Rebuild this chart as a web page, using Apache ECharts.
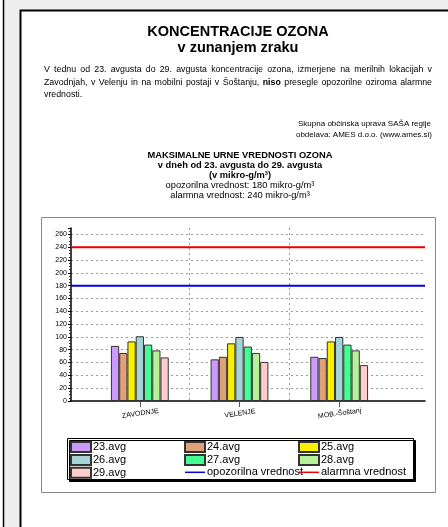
<!DOCTYPE html>
<html>
<head>
<meta charset="utf-8">
<script src="https://cdn.jsdelivr.net/npm/echarts@6/dist/echarts.min.js"></script>
<style>
  html, body { margin: 0; padding: 0; background: #fff; }
  #main { width: 448px; height: 527px; }
</style>
</head>
<body>
<div id="main"></div>
<script>
// lokacije (kategorije na osi x)
var categories = ['ZAVODNJE', 'VELENJE', 'MOB.-Šoštanj'];
// imena serij (dnevi)
var dayNames = ['23.avg', '24.avg', '25.avg', '26.avg', '27.avg', '28.avg', '29.avg'];
// max urne vrednosti po dnevih, za vsako lokacijo
var d23 = [86, 65, 69];
var d24 = [75, 69, 67];
var d25 = [93, 90, 93];
var d26 = [101, 100, 100];
var d27 = [88, 85, 88];
var d28 = [79, 75, 79];
var d29 = [68, 61, 56];
var dayValues = [d23, d24, d25, d26, d27, d28, d29];
// mejne vrednosti
var opozorilna = 180;
var alarmna = 240;
var yMin = 0, yMax = 270, yStep = 20;

var barColors = ['#cc99ff', '#e0a078', '#f8f000', '#a6d3d8', '#44ff90', '#b8f09a', '#ffcccc'];
var FONT = '"Liberation Sans", Arial, sans-serif';

var myChart = echarts.init(document.getElementById('main'));

/**
 * poravnan odstavek (justify) - vsako besedo postavimo posebej
 */
var measureCtx = document.createElement('canvas').getContext('2d');
function justifyLine(words, x0, x1, y, size, last) {
  var els = [];
  var widths = words.map(function (w) {
    measureCtx.font = (w.bold ? 'bold ' : '') + size + 'px ' + FONT;
    return measureCtx.measureText(w.t).width;
  });
  var sum = widths.reduce(function (a, b) { return a + b; }, 0);
  var gap = last ? size * 0.28 : (x1 - x0 - sum) / (words.length - 1);
  var x = x0;
  words.forEach(function (w, i) {
    els.push({
      type: 'text', x: x, y: y, z: 5,
      style: { text: w.t, font: (w.bold ? 'bold ' : '') + size + 'px ' + FONT, fill: '#000', verticalAlign: 'middle' }
    });
    x += widths[i] + gap;
  });
  return els;
}
function toWords(str, boldWords) {
  return str.split(' ').map(function (t) {
    return { t: t, bold: boldWords && boldWords.indexOf(t) >= 0 };
  });
}

var paraLines = [
  'V tednu od 23. avgusta do 29. avgusta koncentracije ozona, izmerjene na merilnih lokacijah v',
  'Zavodnjah, v Velenju in na mobilni postaji v Šoštanju, niso presegle opozorilne oziroma alarmne',
  'vrednosti.'
];

var graphics = [
  // ozadje strani
  { type: 'rect', z: -20, shape: { x: 4, y: 0, width: 444, height: 527 }, style: { fill: '#eeeeee' } },
  { type: 'line', z: -19, shape: { x1: 3.5, y1: 0, x2: 3.5, y2: 527 }, style: { stroke: '#000', lineWidth: 1.5 } },
  { type: 'rect', z: -18, shape: { x: 20.5, y: 10.5, width: 440, height: 530 }, style: { fill: '#fff', stroke: '#000', lineWidth: 2 } },
  // okvir grafa
  { type: 'rect', z: -10, shape: { x: 41.5, y: 217.5, width: 394, height: 275 }, style: { fill: '#fff', stroke: '#888', lineWidth: 1 } },
  // okvir legende
  { type: 'rect', z: -5, shape: { x: 67.5, y: 438.5, width: 346, height: 41 },
    style: { fill: '#fff', stroke: '#000', lineWidth: 1, shadowColor: '#000', shadowOffsetX: 2, shadowOffsetY: 2, shadowBlur: 0 } },
  // naslovi
  { type: 'text', x: 238, y: 32, z: 5, style: { text: 'KONCENTRACIJE OZONA', font: 'bold 14.5px ' + FONT, fill: '#000', align: 'center', verticalAlign: 'middle' } },
  { type: 'text', x: 238, y: 48, z: 5, style: { text: 'v zunanjem zraku', font: 'bold 14.5px ' + FONT, fill: '#000', align: 'center', verticalAlign: 'middle' } },
  { type: 'text', x: 431, y: 124, z: 5, style: { text: 'Skupna občinska uprava SAŠA regije', font: '8px ' + FONT, fill: '#000', align: 'right', verticalAlign: 'middle' } },
  { type: 'text', x: 432, y: 135, z: 5, style: { text: 'obdelava: AMES d.o.o. (www.ames.si)', font: '8px ' + FONT, fill: '#000', align: 'right', verticalAlign: 'middle' } },
  { type: 'text', x: 240, y: 155, z: 5, style: { text: 'MAKSIMALNE URNE VREDNOSTI OZONA', font: 'bold 9.3px ' + FONT, fill: '#000', align: 'center', verticalAlign: 'middle' } },
  { type: 'text', x: 240, y: 165, z: 5, style: { text: 'v dneh od 23. avgusta do 29. avgusta', font: 'bold 9.3px ' + FONT, fill: '#000', align: 'center', verticalAlign: 'middle' } },
  { type: 'text', x: 240, y: 175, z: 5, style: { text: '(v mikro-g/m³)', font: 'bold 9.3px ' + FONT, fill: '#000', align: 'center', verticalAlign: 'middle' } },
  { type: 'text', x: 240, y: 185, z: 5, style: { text: 'opozorilna vrednost: ' + opozorilna + ' mikro-g/m³', font: '9.3px ' + FONT, fill: '#000', align: 'center', verticalAlign: 'middle' } },
  { type: 'text', x: 240, y: 195, z: 5, style: { text: 'alarmna vrednost: ' + alarmna + ' mikro-g/m³', font: '9.3px ' + FONT, fill: '#000', align: 'center', verticalAlign: 'middle' } }
];
graphics = graphics
  .concat(justifyLine(toWords(paraLines[0]), 44, 432, 70, 8.8, false))
  .concat(justifyLine(toWords(paraLines[1], ['niso']), 44, 432, 82.5, 8.8, false))
  .concat(justifyLine(toWords(paraLines[2]), 44, 432, 95, 8.8, true));

var series = dayNames.map(function (name, i) {
  return {
    name: name,
    type: 'bar',
    xAxisIndex: 1,
    yAxisIndex: 1,
    barGap: 0,
    barCategoryGap: '42%',
    itemStyle: { color: barColors[i], borderColor: '#333', borderWidth: 1 },
    data: dayValues[i]
  };
});
// mejni liniji cez cel graf
series.push({
  name: 'opozorilna vrednost', type: 'line', xAxisIndex: 0, yAxisIndex: 0,
  symbol: 'none', lineStyle: { color: '#0000ee', width: 2 }, itemStyle: { color: '#0000ee' },
  data: [[0, opozorilna], [1, opozorilna]]
});
series.push({
  name: 'alarmna vrednost', type: 'line', xAxisIndex: 0, yAxisIndex: 0,
  symbol: 'none', lineStyle: { color: '#ee0000', width: 2 }, itemStyle: { color: '#ee0000' },
  data: [[0, alarmna], [1, alarmna]]
});

function makeLegend(left, items) {
  return {
    orient: 'vertical', left: left, top: 441, padding: 0,
    itemWidth: 20, itemHeight: 10, itemGap: 0.9,
    textStyle: { fontSize: 11, lineHeight: 10, color: '#000', fontFamily: FONT, padding: [0, 0, 0, -3] },
    data: items.map(function (n) {
      if (n.indexOf('vrednost') >= 0) {
        return { name: n, itemStyle: { opacity: 0 }, lineStyle: { width: 1.5 } };
      }
      return { name: n, icon: 'rect' };
    })
  };
}

var option = {
  animation: false,
  backgroundColor: '#fff',
  textStyle: { fontFamily: FONT },
  graphic: graphics,
  legend: [
    makeLegend(70, ['23.avg', '26.avg', '29.avg']),
    makeLegend(184, ['24.avg', '27.avg', 'opozorilna vrednost']),
    makeLegend(298, ['25.avg', '28.avg', 'alarmna vrednost'])
  ],
  grid: [
    { left: 71, right: 23, top: 228, bottom: 126 },
    { left: 90, right: 59, top: 228, bottom: 126 }
  ],
  xAxis: [
    {
      gridIndex: 0, type: 'value', min: 0, max: 1,
      axisLine: { show: true, lineStyle: { color: '#000', width: 1.5 } },
      axisTick: { show: false }, axisLabel: { show: false }, splitLine: { show: false }
    },
    {
      gridIndex: 1, type: 'category', data: categories,
      axisLine: { show: false },
      axisTick: { show: true, alignWithLabel: true, length: 6, lineStyle: { color: '#555' } },
      axisLabel: { fontSize: 7, color: '#000', rotate: 8, align: 'center', verticalAlign: 'top', margin: 9 },
      splitLine: { show: true, showMinLine: false, showMaxLine: false, lineStyle: { color: '#999', type: [2, 3] } }
    }
  ],
  yAxis: [
    {
      gridIndex: 0, type: 'value', min: yMin, max: yMax, interval: yStep,
      axisLine: { show: true, lineStyle: { color: '#000', width: 1.5 } },
      axisTick: { show: true, length: 3, lineStyle: { color: '#000' } },
      minorTick: { show: true, splitNumber: 4, length: 2, lineStyle: { color: '#333' } },
      axisLabel: { fontSize: 7, color: '#000', margin: 4, showMaxLabel: false },
      splitLine: { show: true, showMinLine: false, showMaxLine: false, lineStyle: { color: '#999', type: [2, 3] } }
    },
    {
      gridIndex: 1, type: 'value', min: yMin, max: yMax, show: false
    }
  ],
  series: series
};

myChart.setOption(option);
</script>
</body>
</html>
